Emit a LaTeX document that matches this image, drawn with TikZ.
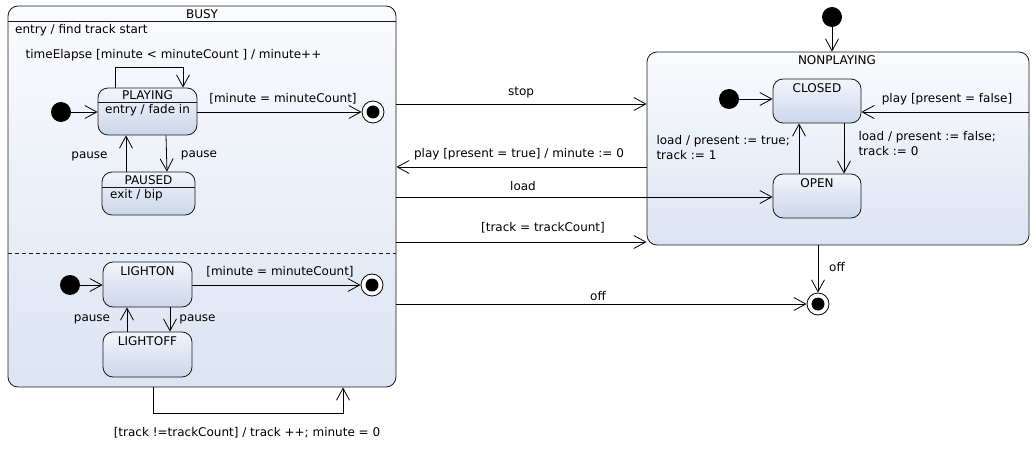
\documentclass[tikz,border=0pt]{standalone}
\usepackage{fontspec}
\setmainfont{DejaVu Sans}
\usetikzlibrary{arrows.meta}

\definecolor{boxTop}{HTML}{FAFBFE}
\definecolor{boxBot}{HTML}{DCE4F2}
\definecolor{stTop}{HTML}{F2F5FB}
\definecolor{stBot}{HTML}{CCD6EA}
\definecolor{edge}{HTML}{1A1A1A}

\begin{document}
\begin{tikzpicture}[x=1pt, y=-1pt, font=\fontsize{12}{15}\selectfont,
    outer/.style={draw=edge, line width=0.8pt, rounded corners=10pt, top color=boxTop, bottom color=boxBot},
    state/.style={draw=edge, line width=0.8pt, rounded corners=10pt, top color=stTop, bottom color=stBot},
    init/.style={circle, fill=black, minimum size=20pt, inner sep=0pt},
    final/.style={circle, draw=black, line width=0.8pt, fill=white, minimum size=22pt, inner sep=0pt,
        path picture={\fill[black] (path picture bounding box.center) circle (6.5pt);}},
    trans/.style={draw=black, line width=0.8pt, -{Straight Barb[length=12pt,width=13pt]}}]
    \useasboundingbox (0,0) rectangle (1036,449);

    % BUSY
    \node (busy) at (202,196.5) [outer, minimum width=388, minimum height=381] {};
    \node (busyT) at (202,14) {BUSY};
    \draw[edge, line width=0.8pt] (busy.west |- 0,21) -- (busy.east |- 0,21);
    \node (busyEntry) at (15,30) [anchor=west, inner sep=0pt] {entry / find track start};
    \draw[edge, line width=0.6pt, dash pattern=on 4pt off 3pt] (busy.west |- 0,253) -- (busy.east |- 0,253);

    \node (playing) at (147.5,111.5) [state, minimum width=99, minimum height=47] {};
    \node (playingT) at (147.5,95) {PLAYING};
    \draw[edge, line width=0.8pt] (playing.west |- 0,102) -- (playing.east |- 0,102);
    \node (playingEntry) at (105,110) [anchor=west, inner sep=0pt] {entry / fade in};

    \node (paused) at (148.5,193.5) [state, minimum width=93, minimum height=43] {};
    \node (pausedT) at (148.5,180) {PAUSED};
    \draw[edge, line width=0.8pt] (paused.west |- 0,187) -- (paused.east |- 0,187);
    \node (pausedExit) at (110,195) [anchor=west, inner sep=0pt] {exit / bip};

    \node (busyInit1) at (61,112) [init] {};
    \node (busyEnd1) at (373,112) [final] {};

    \draw[trans] (busyInit1) -- (playing.west |- busyInit1);
    \draw[trans] (playing.north -| 115,0) -- ++(0,-20) -| (playing.north -| 183,0);
    \node (lblTime) at (173.5,55) {timeElapse [minute < minuteCount ] / minute++};
    \draw[trans] (playing.east |- busyEnd1) -- (busyEnd1);
    \node (lblMin1) at (283,99) {[minute = minuteCount]};
    \draw[trans] (paused.north -| 126,0) -- (playing.south -| 126,0);
    \draw[trans] (playing.south -| 166,0) -- (paused.north -| 167,0);
    \node (lblPause1) at (89.5,156) {pause};
    \node (lblPause2) at (199,155) {pause};

    \node (lighton) at (147.5,284.5) [state, minimum width=89, minimum height=45] {};
    \node (lightonT) at (147.5,271) {LIGHTON};
    \node (lightoff) at (147.5,354.5) [state, minimum width=89, minimum height=45] {};
    \node (lightoffT) at (147.5,341) {LIGHTOFF};

    \node (busyInit2) at (70,285) [init] {};
    \node (busyEnd2) at (372,285) [final] {};

    \draw[trans] (busyInit2) -- (lighton.west |- busyInit2);
    \draw[trans] (lighton.east |- busyEnd2) -- (busyEnd2);
    \node (lblMin2) at (280,272) {[minute = minuteCount]};
    \draw[trans] (lightoff.north -| 127,0) -- (lighton.south -| 127,0);
    \draw[trans] (lighton.south -| 170,0) -- (lightoff.north -| 170,0);
    \node (lblPause3) at (92,319) {pause};
    \node (lblPause4) at (197.5,319) {pause};

    \draw[trans] (busy.south -| 153,0) -- ++(0,26) -| (busy.south -| 343,0);
    \node (lblNext) at (247,433) {[track !=trackCount] / track ++; minute = 0};

    % NONPLAYING
    \node (nonplaying) at (838,148.5) [outer, minimum width=382, minimum height=193] {};
    \node (nonplayingT) at (837,60) {NONPLAYING};
    \node (closed) at (817,101) [state, minimum width=88, minimum height=44] {};
    \node (closedT) at (817,88) {CLOSED};
    \node (open) at (817,196) [state, minimum width=88, minimum height=44] {};
    \node (openT) at (817,183) {OPEN};

    \node (npInit) at (832,17) [init] {};
    \node (npInit2) at (729,99) [init] {};
    \node (end) at (818,304) [final] {};

    \draw[trans] (npInit) -- (nonplaying.north -| npInit);
    \draw[trans] (npInit2) -- (closed.west |- npInit2);
    \draw[trans] (open.north -| 799,0) -- (closed.south -| 799,0);
    \node (lblLoadTrue) at (653,147.5) [anchor=west, align=left] {load / present := true;\\track := 1};
    \draw[trans] (closed.south -| 844,0) -- (open.north -| 844,0);
    \node (lblLoadFalse) at (855,143.5) [anchor=west, align=left] {load / present := false;\\track := 0};
    \draw[trans] (nonplaying.east |- 0,112) -- (closed.east |- 0,112);
    \node (lblPlayFalse) at (947,99) {play [present = false]};
    \draw[trans] (nonplaying.south -| end) -- (end);
    \node (lblOff1) at (837,267) {off};

    % between the two
    \draw[trans] (busy.east |- 0,104) -- (nonplaying.west |- 0,104);
    \node (lblStop) at (521,93) {stop};
    \draw[trans] (nonplaying.west |- 0,167) -- (busy.east |- 0,167);
    \node (lblPlayTrue) at (519,154) {play [present = true] / minute := 0};
    \draw[trans] (busy.east |- 0,197) -- (open.west |- 0,197);
    \node (lblLoad) at (523,186) {load};
    \draw[trans] (busy.east |- 0,242) -- (nonplaying.west |- 0,242);
    \node (lblLast) at (543,228) {[track = trackCount]};
    \draw[trans] (busy.east |- end) -- (end);
    \node (lblOff2) at (598,296) {off};
\end{tikzpicture}
\end{document}
